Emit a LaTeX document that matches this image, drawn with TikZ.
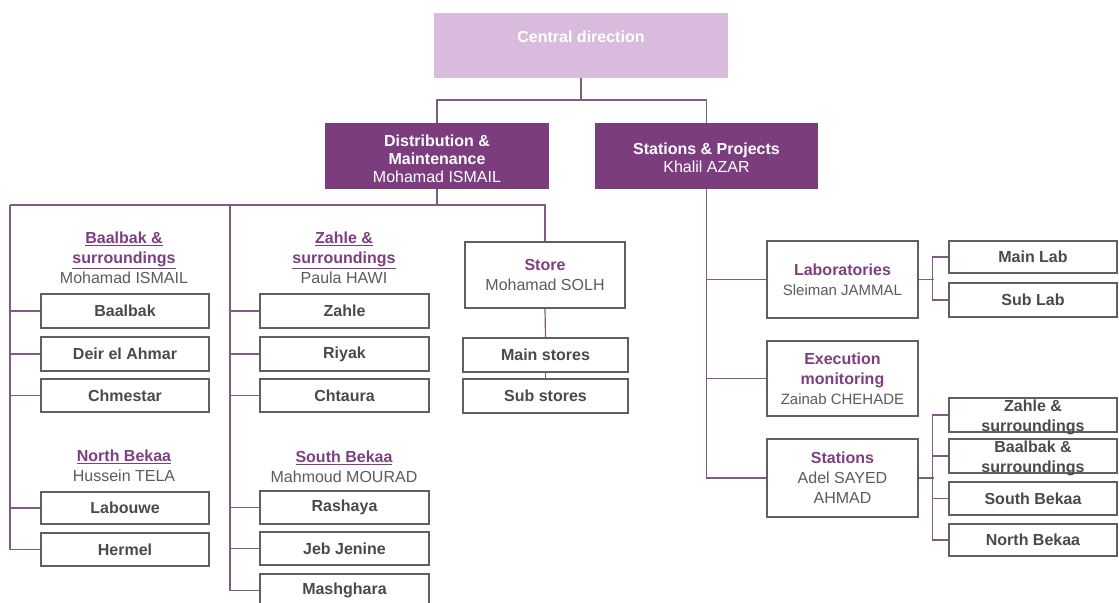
\documentclass[tikz,border=0pt]{standalone}
\usepackage{fontspec}
\setmainfont{Liberation Sans}
\definecolor{lpurple}{HTML}{D9BCDD}
\definecolor{dpurple}{HTML}{7C3D7F}
\definecolor{ptitle}{HTML}{7E3F81}
\definecolor{boxline}{HTML}{606060}
\definecolor{conn}{HTML}{7F5C82}
\definecolor{txtdark}{HTML}{4A4A4A}
\definecolor{txtname}{HTML}{5C5C5C}
\newcommand\ttl[1]{\textcolor{ptitle}{\bfseries #1}}
\newcommand\utl[1]{\textcolor{ptitle}{\bfseries\underline{#1}}}
\tikzset{
  fs/.style={font=\fontsize{16bp}{20bp}\selectfont},
  box/.style={draw=boxline, line width=1.3bp, fill=white, inner sep=0pt, align=center, fs, text=txtname},
  sub/.style={box, minimum width=168bp, minimum height=34bp, font=\fontsize{16bp}{20bp}\selectfont\bfseries, text=txtdark},
  mid/.style={box, minimum width=151bp},
  head/.style={fill=dpurple, draw=none, text=white, inner sep=0pt, align=center,
    font=\fontsize{16bp}{18bp}\selectfont, minimum height=66bp},
  grp/.style={align=center, inner sep=0pt, fs, text=txtname},
  wire/.style={draw=conn, line width=1.2bp}
}
\begin{document}
\begin{tikzpicture}[x=1bp,y=-1bp]
\useasboundingbox[fill=white] (0,0) rectangle (1119,603);

% top level
\node[fill=lpurple, text=white, font=\fontsize{16bp}{20bp}\selectfont\bfseries,
  minimum width=294bp, minimum height=65bp, inner sep=0pt,
  text height=12bp, text depth=17bp] (central) at (581,45.5) {Central direction};
\node[head, minimum width=224bp] (dist) at (437,156)
  {\rule{0pt}{18bp}\textbf{Distribution \&}\\\textbf{Maintenance}\\Mohamad ISMAIL};
\node[head, minimum width=223bp] (sp) at (706.5,156)
  {\rule{0pt}{15bp}\textbf{Stations \& Projects}\\Khalil AZAR};

% distribution side: group headings
\node[grp] (gbaal) at (124,258) {\utl{Baalbak \&}\\\utl{surroundings}\\Mohamad ISMAIL};
\node[grp] (gzahle) at (344,258) {\utl{Zahle \&}\\\utl{surroundings}\\Paula HAWI};
\node[grp] (gnorth) at (124,466) {\utl{North Bekaa}\\Hussein TELA};
\node[grp] (gsouth) at (344,467) {\utl{South Bekaa}\\Mahmoud MOURAD};

% Baalbak and North Bekaa units
\node[sub] (baalbak) at (125,311) {Baalbak};
\node[sub] (deir) at (125,354) {Deir el Ahmar};
\node[sub, minimum height=33bp] (chmestar) at (125,395.5) {Chmestar};
\node[sub, minimum height=32bp] (labouwe) at (125,508) {Labouwe};
\node[sub, minimum height=33bp] (hermel) at (125,549.5) {Hermel};

% Zahle and South Bekaa units
\node[sub, minimum width=169bp] (zahle) at (344.5,311) {Zahle};
\node[sub, minimum width=169bp] (riyak) at (344.5,354) {Riyak};
\node[sub, minimum width=169bp, minimum height=33bp] (chtaura) at (344.5,395.5) {Chtaura};
\node[sub, minimum width=169bp, minimum height=33bp] (rashaya) at (344.5,507.5) {Rashaya};
\node[sub, minimum width=169bp, minimum height=33bp] (jeb) at (344.5,548.5) {Jeb Jenine};
\node[sub, minimum width=169bp, minimum height=33bp] (mash) at (344.5,590.5) {Mashghara};

% store
\node[box, minimum width=160bp, minimum height=66bp] (store) at (545,275)
  {\ttl{Store}\\Mohamad SOLH};
\node[sub, minimum width=165bp] (mainst) at (545.5,355) {Main stores};
\node[sub, minimum width=165bp] (subst) at (545.5,396) {Sub stores};

% stations & projects side
\node[mid, minimum height=77bp] (labs) at (842.5,279.5)
  {\ttl{Laboratories}\\{\fontsize{15bp}{19bp}\selectfont Sleiman JAMMAL}};
\node[mid, minimum height=75bp] (exec) at (842.5,378.5)
  {\ttl{Execution}\\\ttl{monitoring}\\{\fontsize{15bp}{19bp}\selectfont Zainab CHEHADE}};
\node[mid, minimum height=78bp] (stations) at (842.5,478)
  {\ttl{Stations}\\Adel SAYED\\AHMAD};

\node[sub, minimum height=32bp] (mainlab) at (1033,257) {Main Lab};
\node[sub] (sublab) at (1033,300) {Sub Lab};

\node[sub] (rz) at (1033,415) {};
\node[grp, font=\fontsize{16bp}{20bp}\selectfont\bfseries, text=txtdark] (rzt) at (1033,417) {Zahle \&\\surroundings};
\node[sub] (rb) at (1033,456) {};
\node[grp, font=\fontsize{16bp}{20bp}\selectfont\bfseries, text=txtdark] (rbt) at (1033,458) {Baalbak \&\\surroundings};
\node[sub, minimum height=33bp] (rs) at (1033,498.5) {South Bekaa};
\node[sub, minimum height=32bp] (rn) at (1033,540) {North Bekaa};

% connectors: top level
\coordinate (j0) at (central.south |- 0,100);
\draw[wire] (central.south) -- (j0);
\draw[wire] (dist.north) |- (j0) -| (sp.north);

% connectors: distribution
\coordinate (bl) at (10,205);
\coordinate (bm) at (230,205);
\coordinate (br) at (store.north |- 0,205);
\draw[wire] (dist.south) -- (dist.south |- bl);
\draw[wire] (bl) -- (br) -- (store.north);
\draw[wire] (bl) |- (hermel.west);
\foreach \n in {baalbak,deir,chmestar,labouwe}
  \draw[wire] (bl |- \n.west) -- (\n.west);
\draw[wire] (bm) |- (mash.west);
\foreach \n in {zahle,riyak,chtaura,rashaya,jeb}
  \draw[wire] (bm |- \n.west) -- (\n.west);
\draw[wire] (store.south) -- (mainst.north);
\draw[wire] (mainst.south) -- (subst.north);

% connectors: stations & projects
\draw[wire] (sp.south) |- (stations.west);
\draw[wire] (sp.south |- labs.west) -- (labs.west);
\draw[wire] (sp.south |- exec.west) -- (exec.west);
\draw[wire] (labs.east) -- ++(15,0);
\draw[wire] (mainlab.west) -- ++(-16,0) |- (sublab.west);
\draw[wire] (stations.east) -- ++(15,0);
\draw[wire] (rz.west) -- ++(-16,0) |- (rn.west);
\draw[wire] (rb.west) -- ++(-16,0);
\draw[wire] (rs.west) -- ++(-16,0);
\end{tikzpicture}
\end{document}
